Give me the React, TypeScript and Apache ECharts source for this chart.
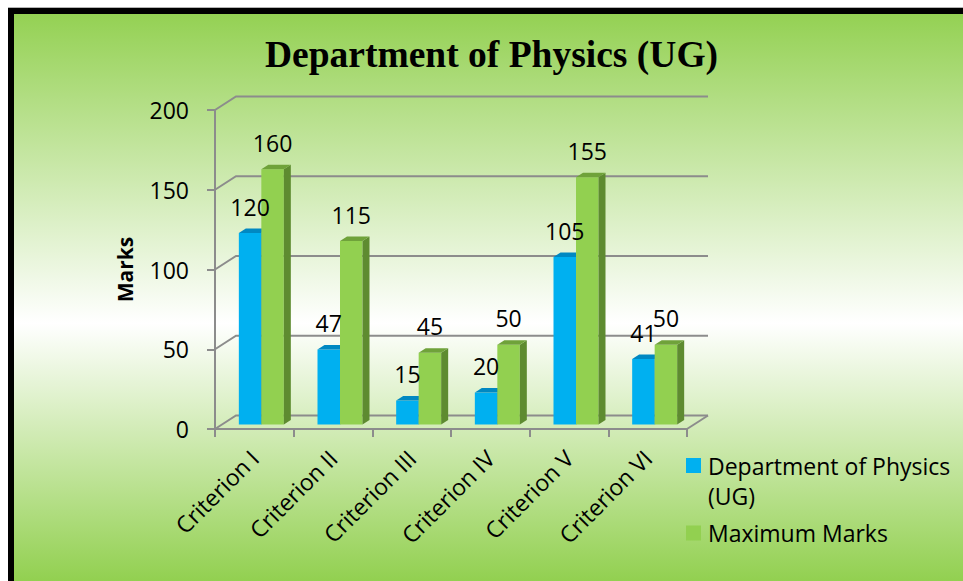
import React, { useEffect, useRef } from "react";
import * as echarts from "echarts";

const categories = ["Criterion I", "Criterion II", "Criterion III", "Criterion IV", "Criterion V", "Criterion VI"];
const deptMarks = [120, 47, 15, 20, 105, 41];
const maxMarks = [160, 115, 45, 50, 155, 50];
const yTicks = [0, 50, 100, 150, 200];
const seriesNames = ["Department of Physics (UG)", "Maximum Marks"];
const titleText = "Department of Physics (UG)";
const axisTitle = "Marks";

const DEPTH = [21, -13.5];
const BAR_FRONT = 1 / 3;
const BAR_BACK = 2 / 3;
const GRID_COLOR = "#8c8c8c";
const FONT = "Open Sans";
const FS = 23;

const blueColors = { front: "#00B0F0", top: "#0088C2", side: "#007DB0" };
const greenColors = { front: "#92D050", top: "#6FA23A", side: "#5E8B30" };

function barGeom(api: any, seriesIdx: number) {
  const idx = api.value(0);
  const v = api.value(1);
  const band = api.size([1, 0])[0];
  const bw = band * 0.286;
  const c = api.coord([idx, 0]);
  const t = api.coord([idx, v]);
  const ox = DEPTH[0] * BAR_FRONT;
  const oy = DEPTH[1] * BAR_FRONT;
  const dx = DEPTH[0] * (BAR_BACK - BAR_FRONT);
  const dy = DEPTH[1] * (BAR_BACK - BAR_FRONT);
  const x0 = c[0] + ox + (seriesIdx === 0 ? -bw : 0);
  const x1 = x0 + bw;
  const yb = c[1] + oy;
  const yt = t[1] + oy;
  return { v, x0, x1, yb, yt, dx, dy };
}

function makeBarRender(seriesIdx: number, colors: { front: string; top: string; side: string }) {
  return (params: any, api: any) => {
    const { x0, x1, yb, yt, dx, dy } = barGeom(api, seriesIdx);
    return {
      type: "group",
      children: [
        { type: "rect", shape: { x: x0, y: yt, width: x1 - x0, height: yb - yt }, style: { fill: colors.front } },
        {
          type: "polygon",
          shape: { points: [[x1, yt], [x1 + dx, yt + dy], [x1 + dx, yb + dy], [x1, yb]] },
          style: { fill: colors.side },
        },
        {
          type: "polygon",
          shape: { points: [[x0, yt], [x1, yt], [x1 + dx, yt + dy], [x0 + dx, yt + dy]] },
          style: { fill: colors.top },
        },
      ],
    };
  };
}

function makeLabelRender(seriesIdx: number) {
  return (params: any, api: any) => {
    const { v, x0, x1, yt } = barGeom(api, seriesIdx);
    return {
      type: "text",
      style: {
        text: String(v),
        x: (x0 + x1) / 2,
        y: yt - 15,
        align: "center",
        verticalAlign: "bottom",
        fontSize: FS,
        fontFamily: FONT,
        fill: "#000",
      },
    };
  };
}

function frameRender(params: any, api: any) {
  const cs = params.coordSys;
  const v = api.value(1);
  const y = api.coord([0, v])[1];
  const x0 = cs.x;
  const x1 = cs.x + cs.width;
  const children: any[] = [
    {
      type: "polyline",
      shape: { points: [[x0, y], [x0 + DEPTH[0], y + DEPTH[1]], [x1 + DEPTH[0], y + DEPTH[1]]] },
      style: { stroke: GRID_COLOR, lineWidth: 2, fill: "none" },
    },
  ];
  if (v === 0) {
    children.push({
      type: "line",
      shape: { x1: x1, y1: y, x2: x1 + DEPTH[0], y2: y + DEPTH[1] },
      style: { stroke: GRID_COLOR, lineWidth: 2 },
    });
  }
  return { type: "group", children };
}

export default function App() {
  const ref = useRef<HTMLDivElement>(null);
  useEffect(() => {
    document.body.style.margin = "0";
    if (!ref.current) return;
    const chart = echarts.init(ref.current, undefined, { renderer: "svg" });
    const W = 955;
    const H = 573;
    chart.setOption({
      animation: false,
      graphic: [
        {
          type: "rect",
          z: -100,
          silent: true,
          shape: { x: 0, y: 0, width: W, height: H },
          style: {
            fill: new echarts.graphic.LinearGradient(0, 0, 0, 1, [
              { offset: 0, color: "#92D050" },
              { offset: 0.55, color: "#FFFFFF" },
              { offset: 1, color: "#92D050" },
            ]),
          },
        },
        { type: "rect", z: 100, silent: true, shape: { x: 0, y: 0, width: W, height: 6 }, style: { fill: "#000" } },
        { type: "rect", z: 100, silent: true, shape: { x: 0, y: 0, width: 6, height: H }, style: { fill: "#000" } },
      ],
      title: {
        text: titleText,
        left: 257,
        top: 27,
        padding: 0,
        textStyle: { fontFamily: "Liberation Serif", fontWeight: "bold", fontSize: 37.5, color: "#000" },
      },
      legend: {
        orient: "vertical",
        left: 678,
        top: 442.5,
        padding: 0,
        itemGap: 0,
        itemWidth: 17,
        itemHeight: 45,
        symbolKeepAspect: false,
        selectedMode: false,
        data: [
          { name: seriesNames[0], icon: "path://M0 0h15v15H0z M16.99 44.99h0.01v0.01h-0.01z" },
          { name: seriesNames[1], icon: "path://M0 15h15v15H0z M0 0h0.01v0.01H0z M16.99 44.99h0.01v0.01h-0.01z" },
        ],
        formatter: (name: string) => name.replace(" (", "\n("),
        textStyle: { fontFamily: FONT, fontSize: FS, lineHeight: 30, color: "#000" },
      },
      grid: { left: 207, top: 102, width: 472, height: 319 },
      xAxis: {
        type: "category",
        data: categories,
        axisLine: { show: true, lineStyle: { color: GRID_COLOR, width: 2 } },
        axisTick: { show: true, length: 8, lineStyle: { color: GRID_COLOR, width: 2 } },
        axisLabel: { rotate: 45, margin: 25, interval: 0, fontFamily: FONT, fontSize: FS, color: "#000" },
        splitLine: { show: false },
      },
      yAxis: {
        type: "value",
        min: 0,
        max: 200,
        interval: 50,
        name: axisTitle,
        nameLocation: "middle",
        nameRotate: 90,
        nameGap: 80,
        nameTextStyle: { fontFamily: FONT, fontWeight: "bold", fontSize: 21, color: "#000" },
        axisLine: { show: true, lineStyle: { color: GRID_COLOR, width: 2 } },
        axisTick: { show: true, length: 8, lineStyle: { color: GRID_COLOR, width: 2 } },
        axisLabel: { margin: 26, fontFamily: FONT, fontSize: FS, color: "#000" },
        splitLine: { show: false },
      },
      series: [
        {
          type: "custom",
          name: "frame",
          z: 1,
          silent: true,
          renderItem: frameRender,
          encode: { x: 0, y: 1 },
          data: yTicks.map((v) => [0, v]),
        },
        {
          type: "custom",
          name: seriesNames[0],
          z: 3,
          itemStyle: { color: blueColors.front },
          renderItem: makeBarRender(0, blueColors),
          encode: { x: 0, y: 1 },
          data: deptMarks.map((v, i) => [i, v]),
        },
        {
          type: "custom",
          name: seriesNames[1],
          z: 4,
          itemStyle: { color: greenColors.front },
          renderItem: makeBarRender(1, greenColors),
          encode: { x: 0, y: 1 },
          data: maxMarks.map((v, i) => [i, v]),
        },
        {
          type: "custom",
          name: "labels-dept",
          z: 10,
          silent: true,
          renderItem: makeLabelRender(0),
          encode: { x: 0, y: 1 },
          data: deptMarks.map((v, i) => [i, v]),
        },
        {
          type: "custom",
          name: "labels-max",
          z: 10,
          silent: true,
          renderItem: makeLabelRender(1),
          encode: { x: 0, y: 1 },
          data: maxMarks.map((v, i) => [i, v]),
        },
      ],
    });
    return () => chart.dispose();
  }, []);
  return (
    <div style={{ position: "relative", width: 963, height: 581, background: "#fff", overflow: "hidden" }}>
      <div style={{ position: "absolute", left: 8, top: 7, width: 955, height: 1, background: "#b4b4b4" }} />
      <div ref={ref} style={{ position: "absolute", left: 8, top: 8, width: 955, height: 573 }} />
    </div>
  );
}
